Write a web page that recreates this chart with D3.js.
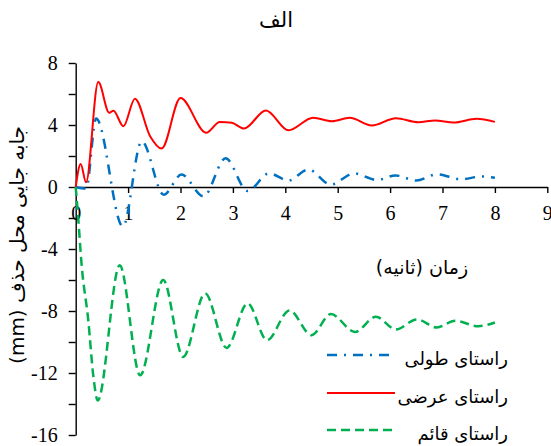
<!DOCTYPE html>
<html>
<head>
<meta charset="utf-8">
<script src="https://cdn.jsdelivr.net/npm/d3@7"></script>
<style>
  body { margin: 0; background: #fff; }
  svg { display: block; }
</style>
</head>
<body>
<div id="chart"></div>
<script>
// time (s) and displacement (mm)
var tLong = [0, 0.2, 0.39, 0.9, 1.26, 1.68, 2.02, 2.44, 2.86, 3.28, 3.69, 4.06, 4.44, 4.87, 5.31, 5.75, 6.1, 6.5, 6.9, 7.35, 7.75, 8.0];
var vLong = [0, -0.1, 4.42, -2.55, 2.95, -0.5, 0.8, -0.6, 1.85, -0.26, 0.88, 0.42, 1.13, 0.15, 0.88, 0.45, 0.75, 0.42, 0.82, 0.5, 0.68, 0.6];

var tTrans = [0, 0.095, 0.197, 0.43, 0.64, 0.72, 0.91, 1.13, 1.42, 1.64, 2.0, 2.49, 2.75, 2.98, 3.21, 3.63, 4.06, 4.53, 4.89, 5.23, 5.65, 6.11, 6.54, 6.86, 7.21, 7.65, 8.0];
var vTrans = [0, 1.49, 0.3, 6.77, 4.79, 4.92, 3.92, 5.7, 3.28, 2.48, 5.74, 3.5, 4.2, 4.14, 3.77, 4.94, 3.66, 4.47, 4.25, 4.47, 3.97, 4.44, 4.18, 4.29, 4.16, 4.4, 4.2];

var tVert = [0, 0.05, 0.11, 0.24, 0.34, 0.42, 0.84, 1.23, 1.67, 2.05, 2.47, 2.88, 3.28, 3.65, 4.08, 4.5, 4.87, 5.33, 5.73, 6.11, 6.51, 6.89, 7.24, 7.68, 8.0];
var vVert = [0, -2.1, -4.9, -8.6, -12.3, -13.77, -5.05, -12.15, -6.0, -10.96, -6.86, -10.38, -7.5, -9.88, -7.96, -9.56, -8.2, -9.35, -8.37, -9.19, -8.54, -9.06, -8.63, -8.98, -8.74];

var seriesNames = ["راستای طولی", "راستای عرضی", "راستای قائم"];
var xTicks = [0, 1, 2, 3, 4, 5, 6, 7, 8, 9];
var yTicks = [-16, -14, -12, -10, -8, -6, -4, -2, 0, 2, 4, 6, 8];

var width = 551, height = 446;
var numFont = "Liberation Serif, Times New Roman, serif";
var faFont = "DejaVu Sans, Noto Sans, sans-serif";

var svg = d3.select("#chart").append("svg")
  .attr("width", width)
  .attr("height", height);

var x = d3.scaleLinear().domain([0, 9]).range([75.7, 547.3]);
var y = d3.scaleLinear().domain([-16, 8]).range([435, 63]);

// y axis
var yAxis = svg.append("g")
  .attr("transform", "translate(" + x(0) + ",0)")
  .call(d3.axisLeft(y).tickValues(yTicks).tickSize(7).tickPadding(11).tickSizeOuter(0)
    .tickFormat(function(d) { return d % 4 === 0 ? d : ""; }));

// x axis crossing at zero
var xAxis = svg.append("g")
  .attr("transform", "translate(0," + y(0) + ")")
  .call(d3.axisBottom(x).tickValues(xTicks).tickSize(6).tickPadding(13).tickSizeOuter(0));

[yAxis, xAxis].forEach(function(g) {
  g.attr("font-family", numFont).attr("font-size", 20);
  g.select(".domain").attr("stroke", "#000").attr("stroke-width", 1.4);
  g.selectAll(".tick line").attr("stroke", "#000").attr("stroke-width", 1.4);
  g.selectAll(".tick text").attr("fill", "#000")
    .attr("font-family", numFont).attr("font-size", 20);
});

var series = [
  {t: tLong, v: vLong, color: "#0070C0", dash: "10,7,2,7", w: 2.5},
  {t: tTrans, v: vTrans, color: "#FF0000", dash: null, w: 2},
  {t: tVert, v: vVert, color: "#00B050", dash: "9,5", w: 2.5}
];

var line = d3.line()
  .x(function(d) { return x(d[0]); })
  .y(function(d) { return y(d[1]); })
  .curve(d3.curveMonotoneX);

series.forEach(function(s) {
  var pts = s.t.map(function(t, i) { return [t, s.v[i]]; });
  svg.append("path")
    .datum(pts)
    .attr("fill", "none")
    .attr("stroke", s.color)
    .attr("stroke-width", s.w)
    .attr("stroke-dasharray", s.dash)
    .attr("d", line);
});

// title
svg.append("text")
  .attr("x", 276).attr("y", 21)
  .attr("text-anchor", "middle")
  .attr("dominant-baseline", "middle")
  .attr("font-family", faFont).attr("font-size", 21)
  .text("الف");

// axis titles
svg.append("text")
  .attr("transform", "translate(18,245)rotate(-90)")
  .attr("text-anchor", "middle")
  .attr("direction", "rtl")
  .attr("dominant-baseline", "middle")
  .attr("font-family", faFont).attr("font-size", 20)
  .text("جابه جایی محل حذف (mm)");

svg.append("text")
  .attr("x", 422).attr("y", 268)
  .attr("text-anchor", "middle")
  .attr("dominant-baseline", "middle")
  .attr("font-family", faFont).attr("font-size", 19)
  .text("(ثانیه) زمان");

// legend
var legendY = [355, 393, 430];
var leg = svg.append("g");
series.forEach(function(s, i) {
  leg.append("line")
    .attr("x1", 327).attr("x2", 395)
    .attr("y1", legendY[i]).attr("y2", legendY[i])
    .attr("stroke", s.color)
    .attr("stroke-width", s.w)
    .attr("stroke-dasharray", s.dash);
  leg.append("text")
    .attr("x", 508).attr("y", legendY[i] + 5)
    .attr("text-anchor", "end")
    .attr("dominant-baseline", "middle")
    .attr("font-family", faFont).attr("font-size", 18)
    .text(seriesNames[i]);
});
</script>
</body>
</html>
